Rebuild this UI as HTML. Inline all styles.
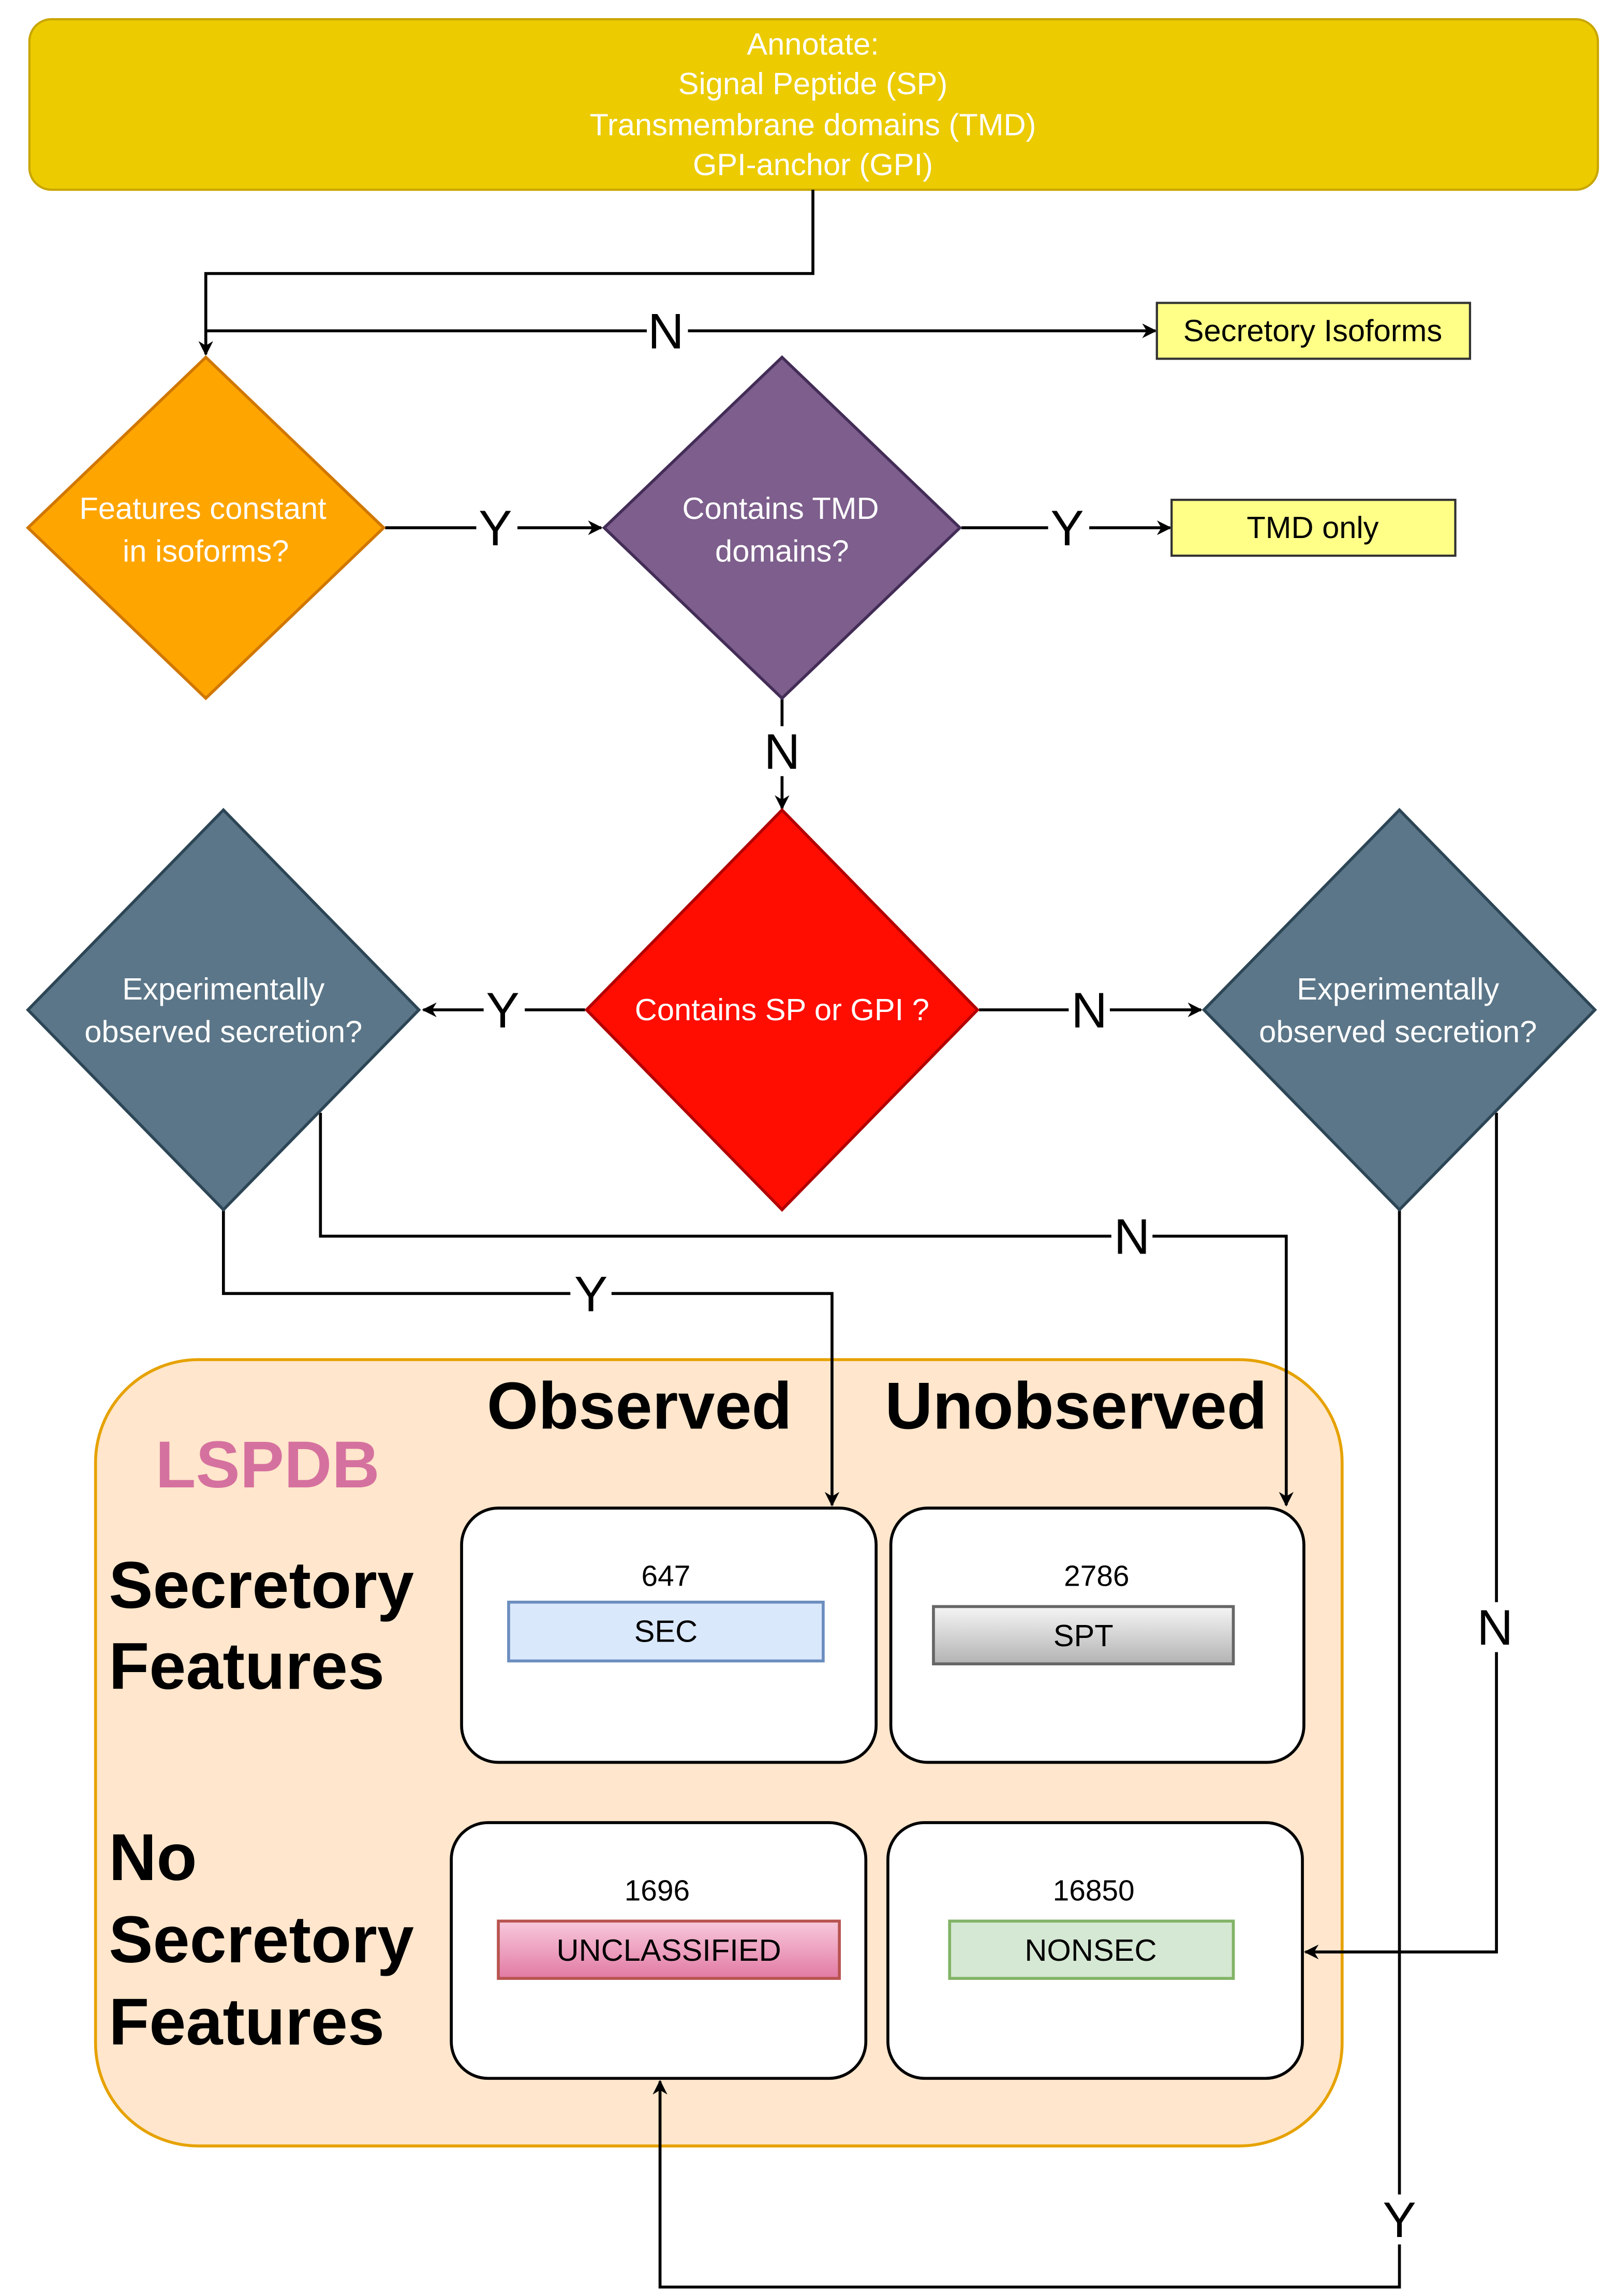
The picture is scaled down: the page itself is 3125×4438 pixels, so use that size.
<!DOCTYPE html>
<html><head><meta charset="utf-8"><style>
html,body{margin:0;padding:0;background:#fff;}
svg{display:block;}
text{font-family:"Liberation Sans",Arial,sans-serif;}
</style></head><body>
<svg width="3125" height="4438" viewBox="0 0 1100 1562" xmlns="http://www.w3.org/2000/svg">
<defs>
<marker id="a" markerWidth="10" markerHeight="10" refX="9" refY="5" orient="auto" markerUnits="userSpaceOnUse">
<path d="M0,0 L10,5 L0,10 L3,5 Z" fill="#000"/></marker>
<linearGradient id="g1" x1="0" y1="0" x2="0" y2="1"><stop offset="0" stop-color="#f5f5f5"/><stop offset="1" stop-color="#b3b3b3"/></linearGradient>
<linearGradient id="g2" x1="0" y1="0" x2="0" y2="1"><stop offset="0" stop-color="#f8c9dc"/><stop offset="1" stop-color="#e27aa4"/></linearGradient>
</defs>
<rect width="1100" height="1562" fill="#fff"/>
<!-- container -->
<rect x="65" y="925" width="848" height="535" rx="70" fill="#ffe6cc" stroke="#e6a200" stroke-width="2"/>
<!-- top box -->
<rect x="20" y="13" width="1067" height="116" rx="15" fill="#eccb00" stroke="#c9a600" stroke-width="1.5"/>
<g fill="#fff" font-size="21" text-anchor="middle">
<text x="553" y="37">Annotate:</text>
<text x="553" y="64">Signal Peptide (SP)</text>
<text x="553" y="92">Transmembrane domains (TMD)</text>
<text x="553" y="119">GPI-anchor (GPI)</text>
</g>
<g fill="none" stroke="#000" stroke-width="2">
<path d="M553,129 V186 H140 V241" marker-end="url(#a)"/>
<path d="M140,225 H786" marker-end="url(#a)"/>
<path d="M262,359 H409" marker-end="url(#a)"/>
<path d="M654,359 H796" marker-end="url(#a)"/>
<path d="M532,475 V550" marker-end="url(#a)"/>
<path d="M398,687 H288" marker-end="url(#a)"/>
<path d="M666,687 H817" marker-end="url(#a)"/>
<path d="M152,823 V880 H566 V1024" marker-end="url(#a)"/>
<path d="M218,757 V841 H875 V1024" marker-end="url(#a)"/>
<path d="M1018,757 V1328 H888" marker-end="url(#a)"/>
<path d="M952,823 V1556 H449 V1416" marker-end="url(#a)"/>
</g>
<!-- labels on lines -->
<g font-size="34" text-anchor="middle">
<rect x="440" y="208" width="28" height="34" fill="#fff"/><text x="453" y="237">N</text>
<rect x="324" y="342" width="28" height="34" fill="#fff"/><text x="337" y="371">Y</text>
<rect x="713" y="342" width="28" height="34" fill="#fff"/><text x="726" y="371">Y</text>
<rect x="518" y="494" width="28" height="34" fill="#fff"/><text x="532" y="523">N</text>
<rect x="329" y="670" width="28" height="34" fill="#fff"/><text x="342" y="699">Y</text>
<rect x="727" y="670" width="28" height="34" fill="#fff"/><text x="741" y="699">N</text>
<rect x="388" y="863" width="28" height="34" fill="#fff"/><text x="402" y="892">Y</text>
<rect x="756" y="824" width="28" height="34" fill="#fff"/><text x="770" y="853">N</text>
<rect x="1003" y="1090" width="28" height="34" fill="#fff"/><text x="1017" y="1119">N</text>
<rect x="938" y="1493" width="28" height="34" fill="#fff"/><text x="952" y="1522">Y</text>
</g>
<!-- right boxes -->
<rect x="787" y="206" width="213" height="38" fill="#ffff88" stroke="#333" stroke-width="1.5"/>
<text x="893" y="232" font-size="21" text-anchor="middle">Secretory Isoforms</text>
<rect x="797" y="340" width="193" height="38" fill="#ffff88" stroke="#333" stroke-width="1.5"/>
<text x="893" y="366" font-size="21" text-anchor="middle">TMD only</text>
<!-- diamonds -->
<path d="M140,243 L261,359 L140,475 L19,359 Z" fill="#ffa500" stroke="#d07700" stroke-width="2"/>
<g fill="#fff" font-size="21" text-anchor="middle"><text x="138" y="353">Features constant</text><text x="140" y="382">in isoforms?</text></g>
<path d="M532,243 L653,359 L532,475 L411,359 Z" fill="#7d5e8c" stroke="#432d57" stroke-width="2"/>
<g fill="#fff" font-size="21" text-anchor="middle"><text x="531" y="353">Contains TMD</text><text x="532" y="382">domains?</text></g>
<path d="M532,551 L665,687 L532,823 L399,687 Z" fill="#ff0d00" stroke="#b20000" stroke-width="2"/>
<text x="532" y="694" fill="#fff" font-size="21" text-anchor="middle">Contains SP or GPI ?</text>
<path d="M152,551 L285,687 L152,823 L19,687 Z" fill="#5b7688" stroke="#2d4656" stroke-width="2"/>
<g fill="#fff" font-size="21" text-anchor="middle"><text x="152" y="680">Experimentally</text><text x="152" y="709">observed secretion?</text></g>
<path d="M952,551 L1085,687 L952,823 L819,687 Z" fill="#5b7688" stroke="#2d4656" stroke-width="2"/>
<g fill="#fff" font-size="21" text-anchor="middle"><text x="951" y="680">Experimentally</text><text x="951" y="709">observed secretion?</text></g>
<g font-size="45" font-weight="bold">
<text x="435" y="972" text-anchor="middle">Observed</text>
<text x="732" y="972" text-anchor="middle">Unobserved</text>
<text x="182" y="1012" text-anchor="middle" fill="#d5719f">LSPDB</text>
<text x="74" y="1094">Secretory</text>
<text x="74" y="1149">Features</text>
<text x="74" y="1279">No</text>
<text x="74" y="1335">Secretory</text>
<text x="74" y="1391">Features</text>
</g>
<g fill="#fff" stroke="#000" stroke-width="2">
<rect x="314" y="1026" width="282" height="173" rx="25"/>
<rect x="606" y="1026" width="281" height="173" rx="25"/>
<rect x="307" y="1240" width="282" height="174" rx="25"/>
<rect x="604" y="1240" width="282" height="174" rx="25"/>
</g>
<g font-size="20" text-anchor="middle">
<text x="453" y="1079">647</text>
<text x="746" y="1079">2786</text>
<text x="447" y="1293">1696</text>
<text x="744" y="1293">16850</text>
</g>
<rect x="346" y="1090" width="214" height="40" fill="#dae8fc" stroke="#6c8ebf" stroke-width="2"/>
<rect x="635" y="1093" width="204" height="39" fill="url(#g1)" stroke="#666" stroke-width="2"/>
<rect x="339" y="1307" width="232" height="39" fill="url(#g2)" stroke="#b85450" stroke-width="2"/>
<rect x="646" y="1307" width="193" height="39" fill="#d5e8d4" stroke="#82b366" stroke-width="2"/>
<g font-size="21" text-anchor="middle">
<text x="453" y="1117">SEC</text>
<text x="737" y="1120">SPT</text>
<text x="455" y="1334">UNCLASSIFIED</text>
<text x="742" y="1334">NONSEC</text>
</g>
</svg>
</body></html>
